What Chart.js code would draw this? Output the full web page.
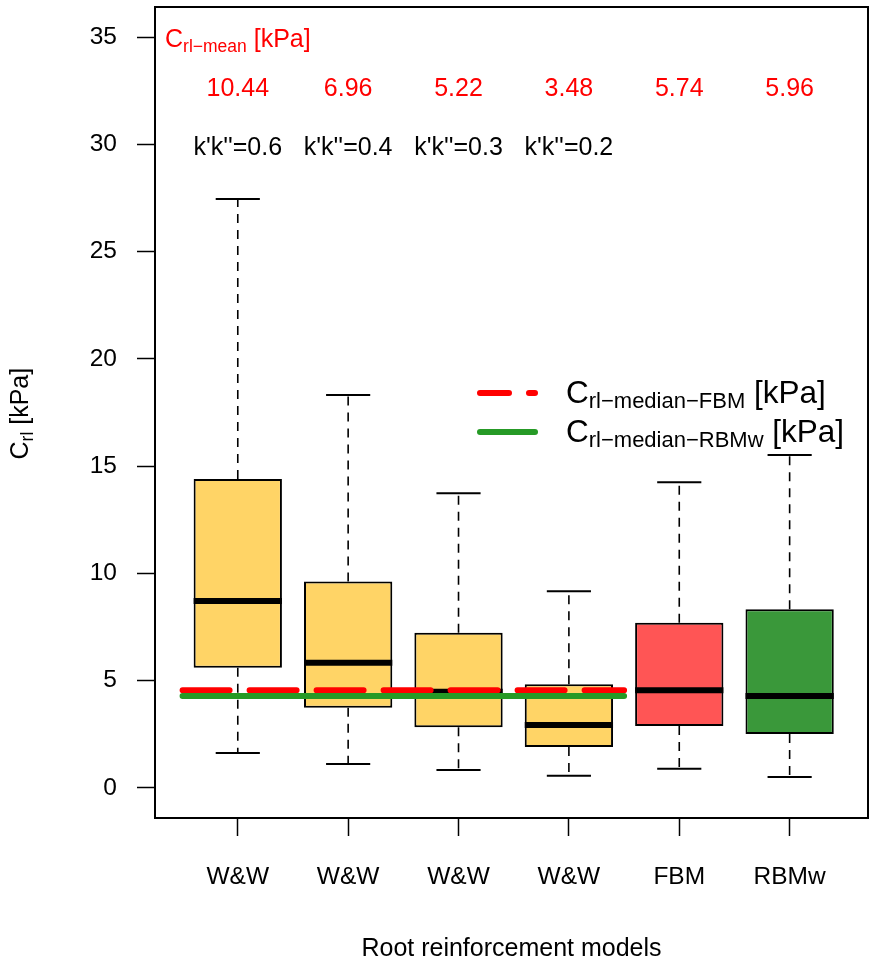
<!DOCTYPE html>
<html>
<head>
<meta charset="utf-8">
<script src="https://cdn.jsdelivr.net/npm/chart.js@4.4.1/dist/chart.umd.min.js"></script>
<style>
  html, body { margin: 0; padding: 0; background: #fff; }
  #wrap { width: 870px; height: 970px; }
</style>
</head>
<body>
<div id="wrap"><canvas id="boxChart" width="870" height="970"></canvas></div>
<script>
// root cohesion per model (kPa)
const models = ['W&W', 'W&W', 'W&W', 'W&W', 'FBM', 'RBMw'];
const kkLabels = ["k'k''=0.6", "k'k''=0.4", "k'k''=0.3", "k'k''=0.2"];
const means = [10.44, 6.96, 5.22, 3.48, 5.74, 5.96];
const lowerWhisker = [1.63, 1.12, 0.84, 0.57, 0.89, 0.51];
const q1 = [5.6, 3.74, 2.83, 1.91, 2.89, 2.52];
const medians = [8.72, 5.84, 4.49, 2.94, 4.55, 4.29];
const q3 = [14.4, 9.62, 7.24, 4.83, 7.7, 8.33];
const upperWhisker = [27.45, 18.32, 13.74, 9.17, 14.25, 15.52];
const yTicks = [0, 5, 10, 15, 20, 25, 30, 35];
const boxColors = ['#ffd466', '#ffd466', '#ffd466', '#ffd466', '#ff5555', '#3a983a'];

const medianFBM = medians[4];
const medianRBMw = medians[5];
const positions = models.map((m, i) => i + 1);

const FONT = '"Liberation Sans", Arial, sans-serif';

// draws "C" + subscript + rest, left aligned at baseline y
function drawSubText(ctx, x, y, main, sub, rest, size, subSize, subDrop, color) {
    ctx.save();
    ctx.fillStyle = color;
    ctx.textAlign = 'left';
    ctx.textBaseline = 'alphabetic';
    ctx.font = size + 'px ' + FONT;
    ctx.fillText(main, x, y);
    x += ctx.measureText(main).width;
    ctx.font = subSize + 'px ' + FONT;
    ctx.fillText(sub, x, y + subDrop);
    x += ctx.measureText(sub).width;
    ctx.font = size + 'px ' + FONT;
    ctx.fillText(rest, x, y);
    ctx.restore();
}

const boxplotParts = {
    id: 'boxplotParts',
    afterDatasetDraw(chart, args) {
        if (args.index !== 0) return;
        const { ctx, scales: { y } } = chart;
        const bars = chart.getDatasetMeta(0).data;
        ctx.save();
        bars.forEach((bar, i) => {
            const half = bar.width / 2;
            const yUp = y.getPixelForValue(upperWhisker[i]);
            const yLo = y.getPixelForValue(lowerWhisker[i]);
            // dashed whiskers
            ctx.strokeStyle = '#000';
            ctx.lineWidth = 1.6;
            ctx.setLineDash([9, 7]);
            ctx.beginPath();
            ctx.moveTo(bar.x, y.getPixelForValue(q3[i]));
            ctx.lineTo(bar.x, yUp);
            ctx.moveTo(bar.x, y.getPixelForValue(q1[i]));
            ctx.lineTo(bar.x, yLo);
            ctx.stroke();
            // staples
            ctx.setLineDash([]);
            ctx.lineWidth = 2;
            ctx.beginPath();
            ctx.moveTo(bar.x - half / 2, yUp);
            ctx.lineTo(bar.x + half / 2, yUp);
            ctx.moveTo(bar.x - half / 2, yLo);
            ctx.lineTo(bar.x + half / 2, yLo);
            ctx.stroke();
            // median
            const yMed = y.getPixelForValue(medians[i]);
            ctx.lineWidth = 6;
            ctx.beginPath();
            ctx.moveTo(bar.x - half, yMed);
            ctx.lineTo(bar.x + half, yMed);
            ctx.stroke();
        });
        ctx.restore();
    },
    afterDraw(chart) {
        const { ctx, chartArea: a, scales: { x, y } } = chart;
        ctx.save();
        // frame
        ctx.strokeStyle = '#000';
        ctx.lineWidth = 2;
        ctx.strokeRect(a.left, a.top, a.right - a.left, a.bottom - a.top);

        // mean values and k'k'' row
        ctx.textAlign = 'center';
        ctx.textBaseline = 'alphabetic';
        ctx.font = '25px ' + FONT;
        ctx.fillStyle = '#ff0000';
        means.forEach((m, i) => {
            ctx.fillText(m.toFixed(2), x.getPixelForValue(positions[i]), y.getPixelForValue(32.25));
        });
        ctx.fillStyle = '#000';
        kkLabels.forEach((t, i) => {
            ctx.fillText(t, x.getPixelForValue(positions[i]), y.getPixelForValue(29.5));
        });

        drawSubText(ctx, a.left + 10, y.getPixelForValue(34.55), 'C', 'rl\u2212mean', ' [kPa]', 25, 17.5, 5, '#ff0000');

        // legend
        const lx0 = 480, lx1 = 535;
        ctx.lineCap = 'round';
        ctx.lineWidth = 6;
        ctx.strokeStyle = '#ff0000';
        ctx.setLineDash([29, 20]);
        ctx.beginPath();
        ctx.moveTo(lx0, 393);
        ctx.lineTo(lx1, 393);
        ctx.stroke();
        ctx.setLineDash([]);
        ctx.strokeStyle = '#269a26';
        ctx.beginPath();
        ctx.moveTo(lx0, 432);
        ctx.lineTo(lx1, 432);
        ctx.stroke();
        drawSubText(ctx, 566, 403, 'C', 'rl\u2212median\u2212FBM', ' [kPa]', 31.5, 22, 5, '#000');
        drawSubText(ctx, 566, 442, 'C', 'rl\u2212median\u2212RBMw', ' [kPa]', 31.5, 22, 5, '#000');

        // y axis title
        ctx.translate(28, (a.top + a.bottom) / 2);
        ctx.rotate(-Math.PI / 2);
        ctx.font = '25px ' + FONT;
        const w = ctx.measureText('C').width + ctx.measureText(' [kPa]').width + 12;
        drawSubText(ctx, -w / 2, 0, 'C', 'rl', ' [kPa]', 25, 17.5, 5, '#000');
        ctx.restore();
    }
};

const ctx = document.getElementById('boxChart').getContext('2d');
const chart = new Chart(ctx, {
    type: 'bar',
    data: {
        datasets: [
            {
                label: 'IQR',
                data: positions.map((p, i) => ({ x: p, y: [q1[i], q3[i]] })),
                backgroundColor: boxColors,
                borderColor: '#000',
                borderWidth: 2,
                borderSkipped: false,
                barPercentage: 0.8,
                categoryPercentage: 1,
                order: 2
            },
            {
                type: 'line',
                label: 'Crl-median-FBM',
                data: [{ x: 0.5, y: medianFBM }, { x: 4.5, y: medianFBM }],
                borderColor: '#ff0000',
                borderWidth: 6,
                borderDash: [47, 20],
                borderCapStyle: 'round',
                pointRadius: 0,
                order: 1
            },
            {
                type: 'line',
                label: 'Crl-median-RBMw',
                data: [{ x: 0.5, y: medianRBMw }, { x: 4.5, y: medianRBMw }],
                borderColor: '#269a26',
                borderWidth: 6,
                borderCapStyle: 'round',
                pointRadius: 0,
                order: 0
            }
        ]
    },
    options: {
        responsive: false,
        animation: false,
        layout: { padding: { top: 7, right: 2, left: 0, bottom: 0 } },
        plugins: {
            legend: { display: false },
            tooltip: { enabled: false }
        },
        scales: {
            x: {
                type: 'linear',
                min: 0.25,
                max: 6.71,
                offset: false,
                afterBuildTicks(scale) { scale.ticks = positions.map(v => ({ value: v })); },
                afterFit(scale) { scale.height = 152; scale.paddingLeft = 0; scale.paddingRight = 0; },
                grid: { offset: false, drawOnChartArea: false, color: '#000', tickLength: 18, tickWidth: 1.5 },
                border: { display: false },
                ticks: {
                    autoSkip: false,
                    maxRotation: 0,
                    padding: 27,
                    color: '#000',
                    font: { family: FONT, size: 24.5 },
                    callback: (v, i) => models[i]
                },
                title: {
                    display: true,
                    text: 'Root reinforcement models',
                    color: '#000',
                    font: { family: FONT, size: 25 },
                    padding: { top: 0, bottom: 6 }
                }
            },
            y: {
                min: -1.4,
                max: 36.4,
                afterBuildTicks(scale) { scale.ticks = yTicks.map(v => ({ value: v })); },
                afterFit(scale) { scale.width = 155; scale.paddingTop = 0; scale.paddingBottom = 0; },
                grid: { drawOnChartArea: false, color: '#000', tickLength: 18, tickWidth: 1.5 },
                border: { display: false },
                ticks: {
                    padding: 20,
                    color: '#000',
                    font: { family: FONT, size: 24.5 }
                }
            }
        }
    },
    plugins: [boxplotParts]
});
</script>
</body>
</html>
